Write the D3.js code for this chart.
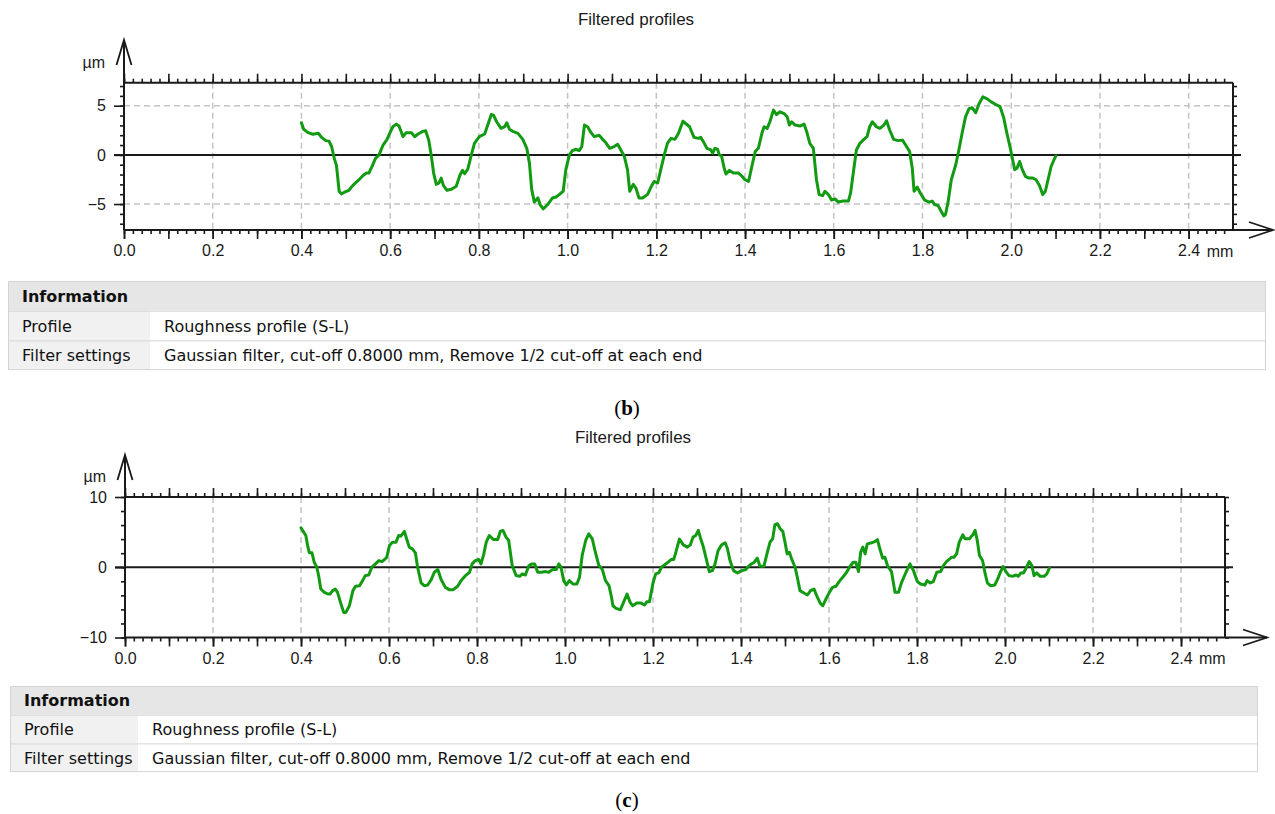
<!DOCTYPE html>
<html>
<head>
<meta charset="utf-8">
<script src="https://cdn.jsdelivr.net/npm/d3@7"></script>
<style>
  body { margin: 0; background: #fff; }
  svg { display: block; }
</style>
</head>
<body>
<svg id="chart" width="1275" height="814"></svg>
<script>
// profile (b): [distance mm, height um]
const profileB = [[0.400,3.27],[0.405,2.6],[0.415,2.26],[0.426,2.1],[0.438,2.2],[0.445,1.8],[0.455,1.45],[0.462,1.4],[0.468,0.85],[0.474,-0.35],[0.479,-1.1],[0.485,-3.7],[0.490,-3.97],[0.497,-3.8],[0.507,-3.6],[0.516,-3.1],[0.528,-2.6],[0.539,-2.1],[0.546,-1.85],[0.552,-1.85],[0.560,-1.1],[0.567,-0.35],[0.575,0],[0.584,1.0],[0.593,1.58],[0.599,2.2],[0.606,2.86],[0.614,3.13],[0.620,2.93],[0.629,1.85],[0.636,2.26],[0.648,2.26],[0.655,1.85],[0.663,2.12],[0.672,2.36],[0.680,2.46],[0.687,1.5],[0.693,-0.17],[0.698,-1.85],[0.704,-3.0],[0.710,-2.86],[0.715,-2.36],[0.720,-3.1],[0.728,-3.6],[0.738,-3.5],[0.749,-3.2],[0.757,-2.1],[0.763,-1.58],[0.768,-1.9],[0.775,-1.45],[0.783,0],[0.790,1.18],[0.801,1.85],[0.813,2.12],[0.820,3.03],[0.828,4.1],[0.833,4.04],[0.840,3.37],[0.850,2.7],[0.858,2.86],[0.863,3.27],[0.869,2.6],[0.878,2.36],[0.888,2.19],[0.899,1.58],[0.908,0.67],[0.914,-0.84],[0.919,-3.5],[0.925,-4.8],[0.933,-4.38],[0.938,-5.05],[0.945,-5.5],[0.955,-5.05],[0.966,-4.38],[0.974,-4.28],[0.981,-4.04],[0.990,-3.7],[0.996,-1.5],[1.004,0],[1.011,0.44],[1.019,0.57],[1.026,0.44],[1.032,0.84],[1.038,3.03],[1.045,2.86],[1.053,2.26],[1.060,1.85],[1.071,2.0],[1.079,1.58],[1.086,1.25],[1.095,0.67],[1.105,0.84],[1.113,1.08],[1.120,0.5],[1.128,-0.17],[1.135,-1.5],[1.140,-3.7],[1.148,-3.0],[1.154,-3.37],[1.161,-4.38],[1.169,-4.38],[1.180,-4.04],[1.188,-3.27],[1.195,-2.7],[1.203,-2.86],[1.210,-1.5],[1.218,0],[1.225,1.18],[1.233,1.68],[1.242,1.58],[1.250,2.19],[1.260,3.42],[1.275,2.86],[1.285,1.78],[1.295,1.68],[1.300,1.78],[1.306,1.35],[1.314,0.67],[1.323,0.5],[1.327,0.17],[1.332,0.67],[1.338,0.57],[1.342,0],[1.347,-0.1],[1.353,-1.35],[1.357,-1.95],[1.365,-1.58],[1.374,-1.85],[1.385,-1.85],[1.392,-2.12],[1.400,-2.53],[1.408,-2.7],[1.415,-1.25],[1.423,0.34],[1.430,0.67],[1.438,2.19],[1.443,2.86],[1.450,2.7],[1.456,3.37],[1.464,4.55],[1.471,4.1],[1.479,4.38],[1.488,4.2],[1.495,3.87],[1.500,3.03],[1.505,3.37],[1.513,3.03],[1.524,2.93],[1.533,3.13],[1.539,2.36],[1.546,1.18],[1.554,0.67],[1.561,-2.53],[1.567,-4.04],[1.575,-4.14],[1.580,-3.7],[1.588,-4.04],[1.595,-4.6],[1.603,-4.48],[1.610,-4.8],[1.621,-4.7],[1.633,-4.7],[1.638,-3.87],[1.644,-1.85],[1.651,0.5],[1.659,1.18],[1.668,1.58],[1.675,1.85],[1.681,2.86],[1.687,3.37],[1.696,2.86],[1.704,2.7],[1.713,3.03],[1.719,3.47],[1.726,2.53],[1.735,1.58],[1.745,1.45],[1.755,1.5],[1.762,1.0],[1.771,0.34],[1.777,-1.35],[1.781,-3.7],[1.788,-3.27],[1.795,-3.87],[1.805,-4.6],[1.815,-4.8],[1.822,-4.7],[1.827,-5.05],[1.835,-5.15],[1.843,-5.8],[1.848,-6.2],[1.852,-6.06],[1.858,-4.7],[1.865,-2.53],[1.875,-1.0],[1.882,0.5],[1.890,2.36],[1.897,3.87],[1.905,4.7],[1.912,4.8],[1.920,4.28],[1.927,5.15],[1.936,5.9],[1.945,5.72],[1.955,5.39],[1.964,5.15],[1.975,4.9],[1.983,3.8],[1.990,2.26],[1.998,0.67],[2.004,-0.67],[2.008,-1.5],[2.013,-1.35],[2.019,-0.67],[2.025,-1.5],[2.032,-2.19],[2.040,-2.36],[2.049,-2.36],[2.056,-2.53],[2.064,-3.13],[2.071,-4.04],[2.077,-3.7],[2.083,-2.53],[2.090,-1.18],[2.098,-0.34],[2.101,-0.1]];

// profile (c): [distance mm, height um]
const profileC = [[0.400,5.62],[0.405,5.1],[0.411,4.52],[0.415,3.1],[0.419,2.05],[0.425,2.05],[0.430,0.71],[0.436,0],[0.440,-1.19],[0.445,-3.1],[0.453,-3.57],[0.461,-3.81],[0.466,-3.81],[0.472,-3.33],[0.478,-3.1],[0.483,-3.57],[0.491,-5.24],[0.497,-6.43],[0.502,-6.43],[0.510,-5.48],[0.518,-3.33],[0.524,-2.71],[0.533,-2.62],[0.540,-1.9],[0.546,-1.19],[0.554,-1.1],[0.561,0],[0.569,0.48],[0.577,0.95],[0.584,0.81],[0.590,1.1],[0.595,1.43],[0.601,3.1],[0.608,3.57],[0.616,3.57],[0.622,4.52],[0.627,4.43],[0.635,5.1],[0.640,4.05],[0.646,2.86],[0.653,2.62],[0.660,2.05],[0.665,0],[0.673,-2.24],[0.680,-2.62],[0.688,-2.52],[0.696,-1.76],[0.703,-0.71],[0.711,-0.33],[0.718,-1.67],[0.728,-2.86],[0.737,-3.19],[0.746,-3.19],[0.756,-2.71],[0.764,-1.9],[0.774,-1.19],[0.783,-0.71],[0.789,0.48],[0.796,0.95],[0.804,1.1],[0.809,0.48],[0.815,1.76],[0.821,3.57],[0.828,4.52],[0.837,3.95],[0.847,3.95],[0.853,5.1],[0.859,5.24],[0.866,4.29],[0.872,3.81],[0.880,0.24],[0.889,-1.19],[0.897,-1.29],[0.903,-0.95],[0.910,-1.1],[0.918,0.24],[0.925,0.48],[0.931,0.48],[0.938,-0.71],[0.946,-0.71],[0.956,-0.62],[0.963,-0.71],[0.972,-0.33],[0.980,-0.33],[0.986,0.48],[0.991,0],[0.997,-1.9],[1.003,-2.52],[1.010,-1.9],[1.018,-2.38],[1.027,-2.38],[1.033,-1.43],[1.039,1.67],[1.047,3.81],[1.054,4.76],[1.062,4.05],[1.069,2.14],[1.077,0.24],[1.085,-0.33],[1.092,-1.9],[1.100,-2.62],[1.105,-4.05],[1.109,-5.48],[1.116,-5.86],[1.126,-6.05],[1.133,-5.0],[1.141,-3.81],[1.148,-5.0],[1.154,-5.48],[1.163,-5.1],[1.173,-5.1],[1.181,-5.38],[1.186,-4.9],[1.192,-4.9],[1.200,-2.24],[1.206,-0.95],[1.213,-0.81],[1.219,0],[1.226,0.33],[1.234,0.71],[1.241,1.1],[1.247,1.1],[1.252,2.14],[1.260,4.0],[1.269,3.19],[1.278,2.86],[1.285,3.19],[1.291,4.29],[1.297,4.52],[1.303,5.24],[1.308,4.14],[1.314,3.0],[1.322,0.95],[1.328,-0.62],[1.335,-0.48],[1.341,0.48],[1.348,2.38],[1.356,3.19],[1.364,3.48],[1.369,2.71],[1.375,0.95],[1.383,-0.48],[1.392,-0.81],[1.402,-0.48],[1.411,-0.33],[1.420,0.33],[1.430,0.71],[1.437,1.29],[1.443,0.14],[1.452,0.14],[1.460,2.14],[1.466,3.57],[1.472,4.05],[1.477,6.05],[1.483,6.19],[1.489,5.48],[1.495,5.1],[1.500,3.57],[1.505,1.9],[1.510,2.14],[1.515,1.19],[1.523,0],[1.528,-1.43],[1.534,-3.33],[1.543,-3.67],[1.551,-3.95],[1.558,-3.33],[1.566,-3.1],[1.572,-4.05],[1.580,-5.1],[1.586,-5.48],[1.593,-4.52],[1.601,-3.57],[1.608,-2.86],[1.616,-2.71],[1.623,-2.05],[1.633,-1.29],[1.640,-0.71],[1.648,0.14],[1.655,0.71],[1.661,0.71],[1.667,-0.62],[1.672,2.14],[1.677,2.86],[1.682,1.9],[1.687,3.33],[1.697,3.48],[1.705,3.67],[1.710,3.95],[1.716,2.52],[1.722,1.29],[1.727,1.43],[1.733,0.24],[1.742,-0.62],[1.750,-3.57],[1.758,-3.57],[1.765,-2.14],[1.775,-0.71],[1.784,0.48],[1.792,-0.48],[1.801,-2.05],[1.808,-2.38],[1.818,-2.52],[1.823,-1.9],[1.830,-2.24],[1.837,-2.05],[1.845,-0.71],[1.854,-0.62],[1.860,0.24],[1.867,0.81],[1.879,1.43],[1.884,1.43],[1.890,1.9],[1.896,3.57],[1.904,4.62],[1.909,4.05],[1.919,4.05],[1.927,4.62],[1.932,5.24],[1.937,3.81],[1.942,1.67],[1.949,0.95],[1.955,-0.95],[1.960,-2.24],[1.967,-2.62],[1.977,-2.52],[1.985,-1.43],[1.990,-0.62],[1.996,0.1],[2.002,-0.62],[2.009,-1.19],[2.017,-1.29],[2.025,-1.1],[2.030,-1.29],[2.036,-0.81],[2.042,-0.81],[2.048,-0.14],[2.055,0.81],[2.061,0.24],[2.066,-1.19],[2.072,-0.81],[2.080,-1.29],[2.089,-1.29],[2.095,-0.95],[2.101,-0.14]];

const xLabels = [0, 0.2, 0.4, 0.6, 0.8, 1.0, 1.2, 1.4, 1.6, 1.8, 2.0, 2.2, 2.4];
const yLabelsB = [-5, 0, 5];
const yLabelsC = [-10, 0, 10];
const yMinorB = d3.range(-7, 8);
const yMinorC = d3.range(-10, 11, 2);
const infoHeader = "Information";
const infoRows = [
  ["Profile", "Roughness profile (S-L)"],
  ["Filter settings", "Gaussian filter, cut-off 0.8000 mm, Remove 1/2 cut-off at each end"]
];

const svg = d3.select("#chart");
const ink = "#1a1a1a";
const green = "#129a12";
const axisFont = "Liberation Sans, Arial, sans-serif";
const tableFont = "DejaVu Sans, Verdana, sans-serif";

function cleanAxis(g) {
  g.select(".domain").remove();
  g.attr("font-family", axisFont).attr("font-size", 16);
  g.selectAll("line").attr("stroke", ink).attr("stroke-width", 1.6);
  g.selectAll("text").attr("fill", ink);
}

function drawPanel(p) {
  const g = svg.append("g");
  const x = d3.scaleLinear().domain([0, 2.5]).range([p.x0, p.x1]);
  const y = d3.scaleLinear().domain(p.yDomain).range([p.yBottom, p.yTop]);

  // title
  g.append("text").attr("x", p.titleX).attr("y", p.titleY)
    .attr("text-anchor", "middle").attr("font-family", axisFont)
    .attr("font-size", 17).attr("fill", ink).text("Filtered profiles");

  // dashed grid
  g.selectAll(".gx").data(xLabels.filter(d => d > 0)).join("line")
    .attr("x1", d => x(d)).attr("x2", d => x(d))
    .attr("y1", p.yTop).attr("y2", p.yBottom)
    .attr("stroke", "#c4c4c4").attr("stroke-width", 1.5).attr("stroke-dasharray", "6,4");
  g.selectAll(".gy").data(p.gridY).join("line")
    .attr("x1", p.x0).attr("x2", p.x1)
    .attr("y1", d => y(d)).attr("y2", d => y(d))
    .attr("stroke", "#c4c4c4").attr("stroke-width", 1.5).attr("stroke-dasharray", "6,4");

  const minorX = d3.range(0, 125).map(i => i / 50);
  const midX = d3.range(0, 25).map(i => i / 10);

  // top ticks
  g.append("g").attr("transform", `translate(0,${p.yTop})`)
    .call(d3.axisTop(x).tickValues(minorX).tickSize(4).tickFormat("")).call(cleanAxis);
  g.append("g").attr("transform", `translate(0,${p.yTop})`)
    .call(d3.axisTop(x).tickValues(midX).tickSize(9).tickFormat("")).call(cleanAxis);
  // bottom ticks + labels
  g.append("g").attr("transform", `translate(0,${p.yBottom})`)
    .call(d3.axisBottom(x).tickValues(minorX).tickSize(4).tickFormat("")).call(cleanAxis);
  g.append("g").attr("transform", `translate(0,${p.yBottom})`)
    .call(d3.axisBottom(x).tickValues(midX).tickSize(9).tickFormat("")).call(cleanAxis);
  g.append("g").attr("transform", `translate(0,${p.yBottom})`)
    .call(d3.axisBottom(x).tickValues(xLabels).tickSize(9).tickPadding(6).tickFormat(d3.format(".1f")))
    .call(cleanAxis);
  g.append("text").attr("x", x(2.4) + 18).attr("y", p.yBottom + 26.5)
    .attr("font-family", axisFont).attr("font-size", 16).attr("fill", ink).text("mm");

  // left ticks + labels
  g.append("g").attr("transform", `translate(${p.x0},0)`)
    .call(d3.axisLeft(y).tickValues(p.yMinor).tickSize(4).tickFormat("")).call(cleanAxis);
  g.append("g").attr("transform", `translate(${p.x0},0)`)
    .call(d3.axisLeft(y).tickValues(p.yLabels).tickSize(10).tickPadding(8).tickFormat(d3.format("d")))
    .call(cleanAxis);
  // right ticks
  g.append("g").attr("transform", `translate(${p.x1},0)`)
    .call(d3.axisRight(y).tickValues(p.yMinor).tickSize(4).tickFormat("")).call(cleanAxis);

  // frame
  const frame = g.append("g").attr("stroke", ink).attr("stroke-width", 2).attr("fill", "none");
  frame.append("line").attr("x1", p.x0).attr("x2", p.x1).attr("y1", p.yTop).attr("y2", p.yTop);
  frame.append("line").attr("x1", p.x1).attr("x2", p.x1).attr("y1", p.yTop).attr("y2", p.yBottom);
  frame.append("line").attr("x1", p.x0).attr("x2", p.xArrow).attr("y1", p.yBottom).attr("y2", p.yBottom);
  frame.append("line").attr("x1", p.x0).attr("x2", p.x0).attr("y1", p.yBottom).attr("y2", p.yArrow);
  frame.append("path").attr("stroke-width", 1.8)
    .attr("d", `M${p.xArrow - 24},${p.yBottom - 8}L${p.xArrow},${p.yBottom}L${p.xArrow - 24},${p.yBottom + 8}`);
  frame.append("path").attr("stroke-width", 1.8)
    .attr("d", `M${p.x0 - 7.5},${p.yArrow + 25}L${p.x0},${p.yArrow}L${p.x0 + 7.5},${p.yArrow + 25}`);
  // zero line
  frame.append("line").attr("x1", p.x0 - 10).attr("x2", p.x1 + 8).attr("y1", y(0)).attr("y2", y(0));

  g.append("text").attr("x", p.x0 - 19).attr("y", p.unitY).attr("text-anchor", "end")
    .attr("font-family", axisFont).attr("font-size", 16).attr("fill", ink).text("µm");

  // profile
  const line = d3.line().x(d => x(d[0])).y(d => y(d[1]));
  g.append("path").datum(p.data).attr("d", line)
    .attr("fill", "none").attr("stroke", green).attr("stroke-width", 3)
    .attr("stroke-linejoin", "round").attr("stroke-linecap", "round");

  // info table
  const t = svg.append("g").attr("font-family", tableFont).attr("font-size", 16).attr("fill", "#111");
  const rh = p.rowH, tw = p.tx1 - p.tx0;
  t.append("rect").attr("x", p.tx0).attr("y", p.ty).attr("width", tw).attr("height", rh)
    .attr("fill", "#e6e6e6");
  infoRows.forEach((r, i) => {
    const yy = p.ty + rh * (i + 1);
    t.append("rect").attr("x", p.tx0).attr("y", yy).attr("width", p.tcol - p.tx0).attr("height", rh)
      .attr("fill", "#f1f1f1");
    t.append("rect").attr("x", p.tcol).attr("y", yy).attr("width", p.tx1 - p.tcol).attr("height", rh)
      .attr("fill", "#fff");
  });
  t.append("rect").attr("x", p.tx0 + 0.5).attr("y", p.ty + 0.5).attr("width", tw - 1).attr("height", rh * 3 - 1)
    .attr("fill", "none").attr("stroke", "#d4d4d4");
  [1, 2].forEach(i => t.append("line").attr("x1", p.tx0).attr("x2", p.tx1)
    .attr("y1", p.ty + rh * i + 0.5).attr("y2", p.ty + rh * i + 0.5).attr("stroke", "#d4d4d4"));
  t.append("text").attr("x", p.tx0 + 14).attr("y", p.ty + rh / 2 + 6)
    .attr("font-weight", "bold").text(infoHeader);
  infoRows.forEach((r, i) => {
    const yy = p.ty + rh * (i + 1) + rh / 2 + 6;
    t.append("text").attr("x", p.tx0 + 14).attr("y", yy).text(r[0]);
    t.append("text").attr("x", p.tcol + 14).attr("y", yy).text(r[1]);
  });

  // caption
  const cap = svg.append("text").attr("x", p.capX).attr("y", p.capY).attr("text-anchor", "middle")
    .attr("font-family", "Liberation Serif, Times New Roman, serif").attr("font-size", 21).attr("fill", "#000");
  cap.append("tspan").text("(");
  cap.append("tspan").attr("font-weight", "bold").text(p.caption);
  cap.append("tspan").text(")");
}

drawPanel({
  data: profileB, yDomain: [-7.64, 7.34], yLabels: yLabelsB, yMinor: yMinorB, gridY: [-5, 5],
  x0: 124, x1: 1233, yTop: 82.7, yBottom: 230, xArrow: 1273, yArrow: 40,
  titleX: 636, titleY: 25, unitY: 68,
  tx0: 8, tx1: 1266, ty: 281, rowH: 29.7, tcol: 150,
  capX: 627, capY: 415, caption: "b"
});
drawPanel({
  data: profileC, yDomain: [-10, 10], yLabels: yLabelsC, yMinor: yMinorC, gridY: [],
  x0: 125, x1: 1225, yTop: 497, yBottom: 637.5, xArrow: 1267, yArrow: 455,
  titleX: 633, titleY: 443, unitY: 482,
  tx0: 10, tx1: 1258, ty: 686, rowH: 28.7, tcol: 138,
  capX: 627, capY: 807, caption: "c"
});
</script>
</body>
</html>
